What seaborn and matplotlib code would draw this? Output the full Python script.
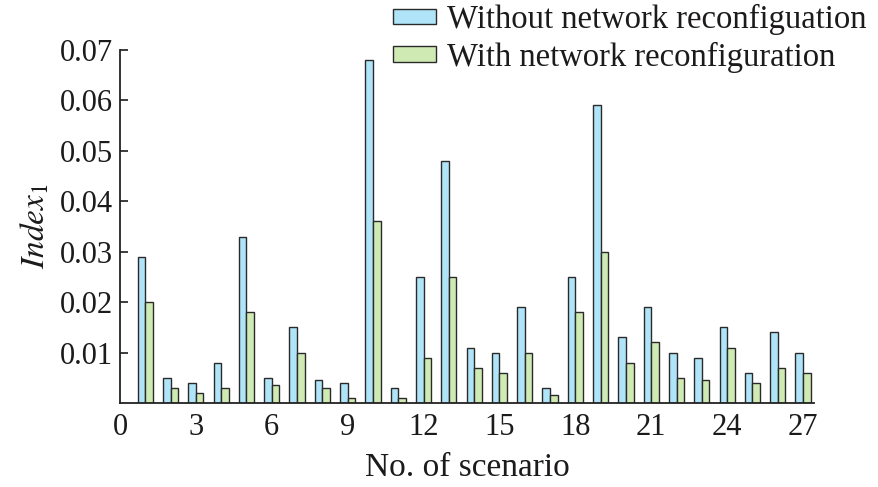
import matplotlib
matplotlib.use("Agg")
import matplotlib.pyplot as plt
import pandas as pd
import seaborn as sns

# values
scenarios = list(range(1, 28))
without_reconf = [0.029, 0.005, 0.004, 0.008, 0.033, 0.005, 0.015, 0.0045, 0.004,
                  0.068, 0.003, 0.025, 0.048, 0.011, 0.010, 0.019, 0.003, 0.025,
                  0.059, 0.013, 0.019, 0.010, 0.009, 0.015, 0.006, 0.014, 0.010]
with_reconf = [0.020, 0.003, 0.002, 0.003, 0.018, 0.0035, 0.010, 0.003, 0.001,
               0.036, 0.001, 0.009, 0.025, 0.007, 0.006, 0.010, 0.0015, 0.018,
               0.030, 0.008, 0.012, 0.005, 0.0045, 0.011, 0.004, 0.007, 0.006]
series_names = ["Without network reconfiguation", "With network reconfiguration"]
x_ticks = [0, 3, 6, 9, 12, 15, 18, 21, 24, 27]
y_ticks = [0.01, 0.02, 0.03, 0.04, 0.05, 0.06, 0.07]

df = pd.DataFrame({
    "scenario": scenarios * 2,
    "value": without_reconf + with_reconf,
    "series": [series_names[0]] * len(scenarios) + [series_names[1]] * len(scenarios),
})

sns.set_theme(style="ticks")
ink = "#1c1a1a"
plt.rcParams["font.family"] = ["Liberation Serif", "DejaVu Serif"]
plt.rcParams["mathtext.fontset"] = "stix"
plt.rcParams.update({"text.color": ink, "axes.labelcolor": ink,
                     "xtick.color": ink, "ytick.color": ink,
                     "xtick.direction": "in", "ytick.direction": "in"})

fig = plt.figure(figsize=(8.79, 4.87), dpi=100)
ax = fig.add_axes([0.1365, 0.1725, 0.79, 0.725])

sns.barplot(data=df, x="scenario", y="value", hue="series", native_scale=True,
            palette=["#b0e4f8", "#d0eab3"], saturation=1, width=0.6,
            edgecolor="#2a2a2a", linewidth=1.0, ax=ax, legend=True)

ax.set_xlim(0, 27.45)
ax.set_ylim(0, 0.07)
ax.set_xticks(x_ticks)
ax.set_xticklabels([str(t) for t in x_ticks])
ax.set_yticks(y_ticks)
ax.set_yticklabels([f"{t:.2f}" for t in y_ticks])
ax.tick_params(axis="both", direction="in", labelsize=22, length=6, width=1.2, pad=5)
ax.tick_params(axis="x", length=0, pad=7)
ax.set_xlabel("No. of scenario", fontsize=24, labelpad=8)
ax.set_ylabel(r"$\mathit{Index}_1$", fontsize=24, labelpad=6)
sns.despine(ax=ax)
for s in ["left", "bottom"]:
    ax.spines[s].set_linewidth(1.3)
    ax.spines[s].set_color("#222222")

handles, labels = ax.get_legend_handles_labels()
ax.legend(handles, labels, loc="upper right", bbox_to_anchor=(1.01, 1.035),
          bbox_transform=fig.transFigure, frameon=False, fontsize=23.5,
          handlelength=1.3, handleheight=0.35, handletextpad=0.35,
          labelspacing=0.2, borderpad=0.15)

plt.savefig("out.png", dpi=100)
plt.close()
